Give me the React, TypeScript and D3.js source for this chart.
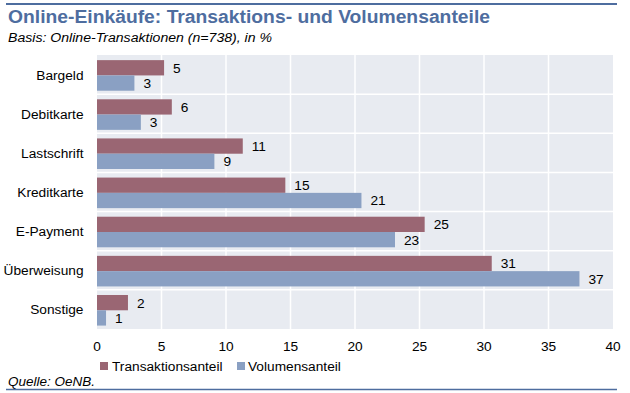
import React from "react";
import * as d3 from "d3";

const categories = ["Bargeld", "Debitkarte", "Lastschrift", "Kreditkarte", "E-Payment", "Überweisung", "Sonstige"];
const transaktionsanteil = [5.2, 5.8, 11.3, 14.6, 25.4, 30.6, 2.4];
const volumensanteil = [2.9, 3.4, 9.1, 20.5, 23.1, 37.4, 0.7];
const seriesNames = ["Transaktionsanteil", "Volumensanteil"];
const xTicks = [0, 5, 10, 15, 20, 25, 30, 35, 40];

const W = 630, H = 393;
const plot = { left: 97, right: 613, top: 55, bottom: 329 };
const RED = "#9a6673";
const BLUE = "#8aa0c3";
const BG = "#e8ebf1";
const TITLE = "#4e6d9f";
const FONT = "'Liberation Sans', Arial, sans-serif";
const FS = 13.7;

export default function App() {
  const x = d3.scaleLinear().domain([0, 40]).range([plot.left, plot.right]);
  const y = d3.scaleBand<string>().domain(categories).range([plot.top, plot.bottom]);
  const inner = d3.scaleBand<string>().domain(seriesNames).range([0, y.bandwidth()]).paddingOuter(0.28).align(0.6);
  const series = [transaktionsanteil, volumensanteil];
  const colors = [RED, BLUE];

  return (
    <svg width={W} height={H} style={{ position: "absolute", left: 0, top: 0, display: "block" }} fontFamily={FONT}>
      <rect x={0} y={0} width={W} height={H} fill="#fff" />
      <line x1={6} x2={617} y1={4} y2={4} stroke={TITLE} strokeWidth={2} />
      <text x={8} y={23} fontSize={18} fontWeight="bold" fill={TITLE} textLength={482} lengthAdjust="spacingAndGlyphs">
        Online-Einkäufe: Transaktions- und Volumensanteile
      </text>
      <text x={8} y={42} fontSize={12.5} fontStyle="italic" fill="#000" textLength={264} lengthAdjust="spacingAndGlyphs">
        Basis: Online-Transaktionen (n=738), in %
      </text>

      <rect x={plot.left} y={plot.top} width={plot.right - plot.left} height={plot.bottom - plot.top} fill={BG} />
      {xTicks.slice(1, -1).map((t) => (
        <line key={"gx" + t} x1={x(t)} x2={x(t)} y1={plot.top} y2={plot.bottom} stroke="#fff" strokeWidth={1.5} />
      ))}
      {categories.slice(1).map((c) => (
        <line key={"gy" + c} x1={plot.left} x2={plot.right} y1={y(c)!} y2={y(c)!} stroke="#fff" strokeWidth={1.5} />
      ))}

      {categories.map((c, i) =>
        series.map((s, j) => {
          const by = (y(c) as number) + (inner(seriesNames[j]) as number);
          const bh = inner.bandwidth();
          return (
            <g key={c + j}>
              <rect x={x(0)} y={by} width={x(s[i]) - x(0)} height={bh} fill={colors[j]} />
              <text x={x(s[i]) + 9} y={by + bh / 2} dy="0.36em" fontSize={FS} fill="#000">
                {Math.round(s[i])}
              </text>
            </g>
          );
        })
      )}

      {categories.map((c) => (
        <text key={"cl" + c} x={83.5} y={(y(c) as number) + y.bandwidth() / 2} dy="0.36em" fontSize={FS} textAnchor="end" fill="#000">
          {c}
        </text>
      ))}

      {xTicks.map((t) => (
        <text key={"xt" + t} x={x(t)} y={351} fontSize={FS} textAnchor="middle" fill="#000">
          {t}
        </text>
      ))}

      <rect x={100} y={362} width={8} height={8} fill={RED} />
      <text x={112} y={371} fontSize={FS} fill="#000">{seriesNames[0]}</text>
      <rect x={237} y={362} width={8} height={8} fill={BLUE} />
      <text x={248} y={371} fontSize={FS} fill="#000">{seriesNames[1]}</text>

      <text x={8} y={386} fontSize={13.5} fontStyle="italic" fill="#000">Quelle: OeNB.</text>
      <line x1={6} x2={617} y1={389.5} y2={389.5} stroke={TITLE} strokeWidth={1.5} />
    </svg>
  );
}
